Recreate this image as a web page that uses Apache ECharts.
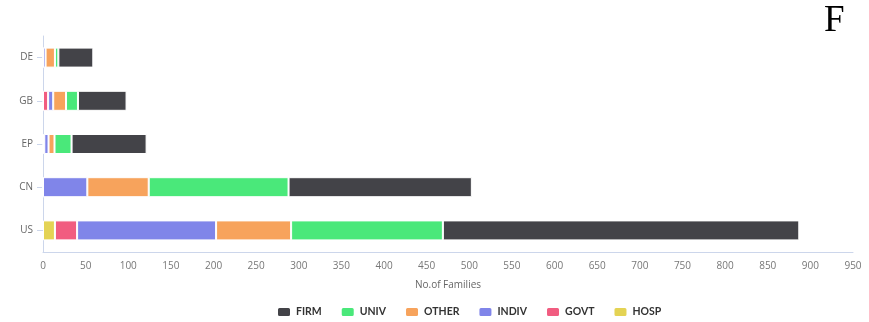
<!DOCTYPE html>
<html><head><meta charset="utf-8">
<script src="https://cdn.jsdelivr.net/npm/echarts@6/dist/echarts.min.js"></script>
<style>html,body{margin:0;padding:0;background:#fff}#c{width:869px;height:322px}</style>
</head><body><div id="c"></div>
<script>
const categories = ['US','CN','EP','GB','DE'];
const legendOrder = ['FIRM','UNIV','OTHER','INDIV','GOVT','HOSP'];
const HOSP  = [14, 0, 0, 0, 0];
const GOVT  = [26, 0, 1.5, 6, 0];
const INDIV = [163, 52, 5, 6, 3];
const OTHER = [88, 72, 7, 15, 11];
const UNIV  = [178, 164, 20, 14, 4];
const FIRM  = [418, 215, 88, 57, 41];
const xTicks = {min: 0, max: 950, step: 50};

const colors = {FIRM:'#434348', UNIV:'#4ae87a', OTHER:'#f7a35c', INDIV:'#8085e9', GOVT:'#f15c80', HOSP:'#e4d354'};
const stackOrder = [['HOSP',HOSP],['GOVT',GOVT],['INDIV',INDIV],['OTHER',OTHER],['UNIV',UNIV],['FIRM',FIRM]];

const chart = echarts.init(document.getElementById('c'), null, {renderer:'canvas'});
chart.setOption({
  animation:false,
  graphic:[{type:'text', left:824, top:3, style:{text:'F', font:'37px "Liberation Serif", "DejaVu Serif", serif', fill:'#000'}}],
  grid:{left:43, right:16, top:36, bottom:70},
  legend:{data:legendOrder, top:301, left:271, itemWidth:14, itemHeight:10, itemGap:18,
    textStyle:{color:'#333', fontSize:10.5, fontWeight:'bold', padding:[0,0,0,0], fontFamily:'Lato, "Open Sans", sans-serif'}},
  xAxis:{type:'value', min:xTicks.min, max:xTicks.max, interval:xTicks.step,
    name:'No.of Families', nameLocation:'middle', nameGap:28,
    nameTextStyle:{color:'#666', fontSize:10, fontFamily:'"Open Sans", sans-serif'},
    axisLine:{show:true, lineStyle:{color:'#ccd6eb'}}, axisTick:{show:false},
    splitLine:{show:false},
    axisLabel:{color:'#777', fontSize:10, margin:9, fontFamily:'"Liberation Sans Narrow", "Open Sans", sans-serif'}},
  yAxis:{type:'category', data:categories,
    axisLine:{show:true, lineStyle:{color:'#ccd6eb'}},
    axisTick:{show:true, alignWithLabel:true, length:6, lineStyle:{color:'#ccd6eb'}},
    axisLabel:{color:'#666', fontSize:10, margin:10, fontFamily:'"Open Sans", sans-serif'}},
  series: stackOrder.map(([name, data]) => ({
    name, type:'bar', stack:'total', data, barWidth:20,
    itemStyle:{color:colors[name], borderColor:'#fff', borderWidth:1}
  }))
});
</script></body></html>
